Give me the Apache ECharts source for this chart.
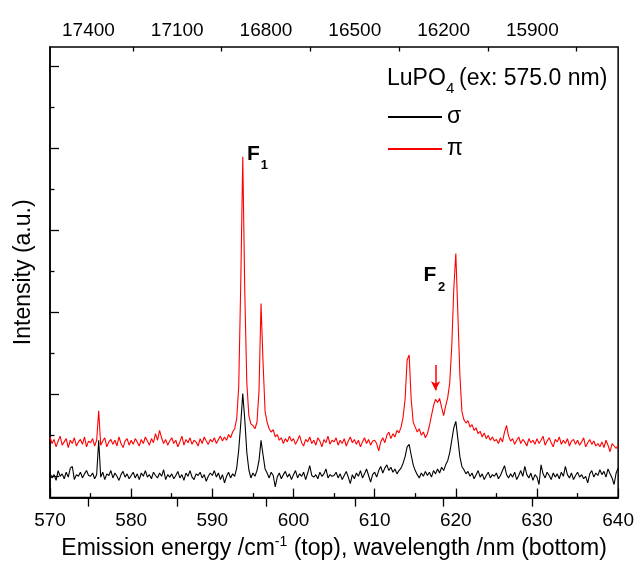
<!DOCTYPE html>
<html>
<head>
<meta charset="utf-8">
<script src="https://cdn.jsdelivr.net/npm/echarts@6/dist/echarts.min.js"></script>
<style>
  html, body { margin: 0; padding: 0; background: #fff; }
  #main { width: 637px; height: 565px; }
</style>
</head>
<body>
<div id="main"></div>
<script>
// LuPO4 emission spectrum, sigma / pi polarisation

// sampling grid of the spectrum (nm)
const wlStart = 570, wlStep = 0.25;

// sigma (black), 570.00 ... 640.00 nm
const sigma = [
  30,24,28,21,33,26,29,23,31,25,36,38,22,28,26,31,24,29,33,27,
  26,30,23,28,70,25,31,22,29,27,33,24,30,26,21,28,32,25,29,23,
  27,31,24,29,22,30,26,33,25,28,23,31,27,24,30,26,34,22,28,25,
  29,23,27,32,24,28,21,30,26,33,25,22,29,27,31,24,28,20,26,30,
  27,33,25,30,22,28,18,26,31,24,29,26,36,58,90,127,95,55,34,24,
  30,26,33,45,70,52,35,30,24,31,27,13,25,30,23,28,32,25,29,22,
  28,33,24,29,26,31,22,30,39,27,25,28,23,31,26,29,35,24,28,26,
  27,31,24,29,22,27,32,25,17,28,23,30,26,33,24,29,35,27,19,28,
  31,25,33,38,30,36,40,33,37,31,35,29,33,36,42,50,62,65,52,40,
  33,28,24,30,26,32,27,31,25,33,29,35,30,37,33,40,45,55,70,85,
  93,72,50,38,34,29,32,26,30,23,28,33,25,29,22,27,31,24,28,26,
  30,23,27,33,39,28,24,29,25,31,22,27,33,26,38,28,24,30,21,28,
  25,16,40,29,24,31,27,22,30,25,29,23,31,26,38,28,24,30,22,27,
  31,25,28,23,26,18,29,33,25,30,27,34,28,32,25,35,29,24,16,30,36
];

// pi (red), 570.00 ... 640.00 nm
const pi = [
  74,66,71,62,69,75,64,68,72,61,70,66,73,63,68,71,65,74,62,69,
  67,72,63,70,106,64,69,73,62,68,71,65,70,63,74,66,61,69,72,64,
  70,65,72,68,63,71,66,74,69,64,72,67,78,70,82,73,66,71,64,69,
  73,66,70,62,68,75,64,71,67,73,65,70,68,63,72,66,74,69,65,71,
  68,73,66,71,75,69,74,70,77,73,80,84,96,135,260,416,250,140,100,90,
  88,84,92,130,237,165,105,92,84,80,83,74,77,70,73,66,72,68,75,69,
  72,65,70,76,67,63,71,68,74,66,70,64,73,69,62,71,67,75,65,70,
  68,73,64,70,66,72,63,69,74,67,71,65,70,62,68,73,66,71,64,69,
  70,66,57,68,73,67,76,80,72,78,74,82,79,86,98,120,168,174,120,92,
  86,80,84,76,80,73,78,88,100,112,120,116,121,110,100,112,122,140,185,255,
  298,225,150,105,95,91,94,86,89,82,85,78,81,74,79,72,76,70,74,69,
  71,66,73,68,80,88,75,69,72,65,70,74,66,71,68,63,72,67,70,65,
  72,66,70,75,64,69,73,67,62,71,68,74,65,70,66,72,63,69,71,65,
  70,64,68,73,62,67,71,65,69,63,66,62,68,61,70,64,56,66,63,60,64
];

// tick positions
const topMajor = [15900, 16200, 16500, 16800, 17100, 17400];
const topMinor = [15750, 16050, 16350, 16650, 16950, 17250];
const yMajor = [26, 126, 226, 326, 426, 526];
const yMinor = [76, 176, 276, 376, 476];

const font = "'Liberation Sans', Arial, sans-serif";
const wl = sigma.map((_, i) => wlStart + i * wlStep);
const toPairs = ys => ys.map((y, i) => [wl[i], y]);

const myChart = echarts.init(document.getElementById("main"));

const axisLine = { show: true, lineStyle: { color: "#000", width: 1.5 } };
const tickLine = { color: "#000", width: 1.3 };

const option = {
  animation: false,
  backgroundColor: "#fff",
  textStyle: { fontFamily: font, color: "#000" },
  grid: {
    left: 50, right: 17, top: 47, bottom: 60,
    show: true, borderColor: "#000", borderWidth: 1.5
  },
  legend: {
    orient: "vertical",
    left: 387,
    top: 105,
    padding: 0,
    itemWidth: 54,
    itemHeight: 10,
    itemGap: 8,
    itemStyle: { opacity: 0 },
    textStyle: { fontFamily: font, fontSize: 23, color: "#000", lineHeight: 24 },
    data: ["σ", "π"]
  },
  graphic: [
    { type: "text", x: 387, y: 79, style: { text: "LuPO", font: "23px " + font, fill: "#000", verticalAlign: "middle" } },
    { type: "text", x: 446, y: 89, style: { text: "4", font: "15px " + font, fill: "#000", verticalAlign: "middle" } },
    { type: "text", x: 459, y: 79, style: { text: "(ex: 575.0 nm)", font: "23px " + font, fill: "#000", verticalAlign: "middle" } }
  ],
  xAxis: [
    {
      type: "value", position: "bottom",
      min: 570, max: 640, interval: 10,
      axisLine: axisLine,
      axisTick: { inside: true, length: 9, lineStyle: tickLine },
      minorTick: { show: true, splitNumber: 2, length: 4.5, lineStyle: tickLine },
      axisLabel: { fontSize: 19, margin: 14, color: "#000", fontFamily: font },
      splitLine: { show: false },
      name: "{a|Emission energy /cm}{s|-1}{a| (top), wavelength /nm (bottom)}",
      nameLocation: "middle",
      nameGap: 32,
      nameTextStyle: {
        rich: {
          a: { fontSize: 23, lineHeight: 26, fontFamily: font, color: "#000" },
          s: { fontSize: 14, lineHeight: 14, fontFamily: font, color: "#000", verticalAlign: "top" }
        }
      }
    },
    {
      type: "value", position: "top",
      min: 15610, max: 17530, inverse: true,
      axisLine: axisLine,
      axisTick: { inside: true, length: 9, lineStyle: tickLine, customValues: topMajor },
      axisLabel: {
        fontSize: 19, margin: 7, color: "#000", fontFamily: font,
        customValues: topMajor,
        formatter: v => String(v)
      },
      splitLine: { show: false }
    },
    {
      type: "value", position: "top",
      min: 15610, max: 17530, inverse: true,
      axisLine: { show: false },
      axisTick: { inside: true, length: 4.5, lineStyle: tickLine, customValues: topMinor },
      axisLabel: { show: false },
      splitLine: { show: false }
    }
  ],
  yAxis: [
    {
      type: "value", position: "left",
      min: 0, max: 550,
      axisLine: axisLine,
      axisTick: { inside: true, length: 9, lineStyle: tickLine, customValues: yMajor },
      axisLabel: { show: false },
      splitLine: { show: false },
      name: "Intensity (a.u.)",
      nameLocation: "middle",
      nameGap: 15,
      nameTextStyle: { fontSize: 23, fontFamily: font, color: "#000" }
    },
    {
      type: "value", position: "left",
      min: 0, max: 550,
      axisLine: { show: false },
      axisTick: { inside: true, length: 4.5, lineStyle: tickLine, customValues: yMinor },
      axisLabel: { show: false },
      splitLine: { show: false }
    }
  ],
  series: [
    {
      name: "σ",
      type: "line",
      xAxisIndex: 0,
      yAxisIndex: 0,
      data: toPairs(sigma),
      symbol: "none",
      lineStyle: { color: "#000", width: 1.1 },
      itemStyle: { color: "#000" }
    },
    {
      name: "π",
      type: "line",
      xAxisIndex: 0,
      yAxisIndex: 0,
      data: toPairs(pi),
      symbol: "none",
      lineStyle: { color: "#ff0000", width: 1.1 },
      itemStyle: { color: "#ff0000" },
      markLine: {
        silent: true,
        symbol: ["none", "arrow"],
        symbolSize: [7, 9],
        label: { show: false },
        lineStyle: { color: "#ff0000", width: 1.5, type: "solid" },
        data: [[{ coord: [617.5, 162] }, { coord: [617.5, 131] }]]
      },
      markPoint: {
        silent: true,
        symbol: "circle",
        symbolSize: 1,
        itemStyle: { color: "rgba(0,0,0,0)" },
        label: { show: true, position: "inside", color: "#000", fontWeight: "bold", fontFamily: font },
        data: [
          { coord: [595.05, 419], label: { formatter: "F", fontSize: 21 } },
          { coord: [596.4, 406], label: { formatter: "1", fontSize: 13 } },
          { coord: [616.8, 271], label: { formatter: "F", fontSize: 21 } },
          { coord: [618.25, 256], label: { formatter: "2", fontSize: 13 } }
        ]
      }
    }
  ]
};

if (option && typeof option === "object") {
  myChart.setOption(option);
}
window.addEventListener("resize", myChart.resize);
</script>
</body>
</html>
